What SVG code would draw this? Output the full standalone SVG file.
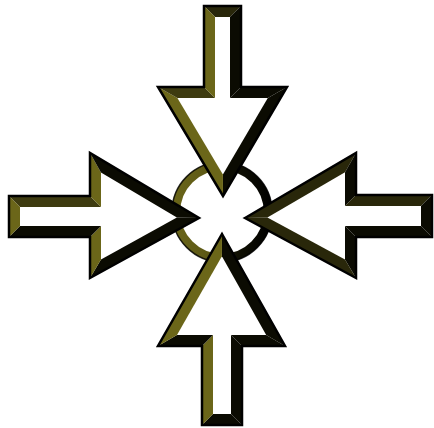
<svg xmlns="http://www.w3.org/2000/svg" width="434" height="428" viewBox="0 0 434 428">
<style>
.ol{fill:#6b6619}
.dk{fill:#3e3b10}
.dd{fill:#29270a}
.bk{fill:#0b0b02}
.edge{fill:none;stroke:#000;stroke-width:2.5;stroke-linejoin:miter}
</style>
<defs>
<linearGradient id="gc" gradientUnits="userSpaceOnUse" x1="172" y1="0" x2="272" y2="0">
<stop offset="0" stop-color="#6b6619"/>
<stop offset="0.42" stop-color="#5a5615"/>
<stop offset="0.58" stop-color="#141404"/>
<stop offset="1" stop-color="#000"/>
</linearGradient>
</defs>
<rect width="434" height="428" fill="#fff"/>
<g id="ring">
<circle cx="222" cy="212" r="46" fill="none" stroke="url(#gc)" stroke-width="8.5"/>
<circle cx="222" cy="212" r="50" fill="none" stroke="#000" stroke-width="1.5" opacity="0.8"/>
</g>
<g id="arrow-top">
<polygon points="204,6 241,6 241,87 287,87 223,196 158,87 204,87" fill="#fff"/>
<polygon class="dd" points="204,6 241,6 230,17 215,17"/>
<polygon class="bk" points="241,6 241,87 230,98 230,17"/>
<polygon class="bk" points="241,87 287,87 267.8,98 230,98"/>
<polygon class="bk" points="287,87 223,196 222.9,174.4 267.8,98"/>
<polygon class="ol" points="223,196 158,87 177.4,98 222.9,174.4"/>
<polygon class="dk" points="158,87 204,87 215,98 177.4,98"/>
<polygon class="ol" points="204,87 204,6 215,17 215,98"/>
<polygon class="edge" points="204,6 241,6 241,87 287,87 223,196 158,87 204,87"/>
</g>
<g id="arrow-bottom">
<polygon points="222,234 285,346 242,346 242,425 202,425 202,346 158,346" fill="#fff"/>
<polygon class="bk" points="222,234 285,346 266.2,335 221.9,256.3"/>
<polygon class="bk" points="285,346 242,346 231,335 266.2,335"/>
<polygon class="bk" points="242,346 242,425 231,414 231,335"/>
<polygon class="bk" points="242,425 202,425 213,414 231,414"/>
<polygon class="ol" points="202,425 202,346 213,335 213,414"/>
<polygon class="bk" points="202,346 158,346 177,335 213,335"/>
<polygon class="ol" points="158,346 222,234 221.9,256.3 177,335"/>
<polygon class="edge" points="222,234 285,346 242,346 242,425 202,425 202,346 158,346"/>
</g>
<g id="arrow-left">
<polygon points="9,196 90,196 90,153 199,218 90,278 90,237 9,237" fill="#fff"/>
<polygon class="dk" points="9,196 90,196 101,207 20,207"/>
<polygon class="ol" points="90,196 90,153 101,172.4 101,207"/>
<polygon class="bk" points="90,153 199,218 176.9,217.6 101,172.4"/>
<polygon class="bk" points="199,218 90,278 101,259.4 176.9,217.6"/>
<polygon class="ol" points="90,278 90,237 101,226 101,259.4"/>
<polygon class="bk" points="90,237 9,237 20,226 101,226"/>
<polygon class="ol" points="9,237 9,196 20,207 20,226"/>
<polygon class="edge" points="9,196 90,196 90,153 199,218 90,278 90,237 9,237"/>
</g>
<g id="arrow-right">
<polygon points="245,218 356,153 356,195 432,195 432,237 356,237 356,278" fill="#fff"/>
<polygon class="dd" points="245,218 356,153 345,172.2 267.4,217.6"/>
<polygon class="bk" points="356,153 356,195 345,206 345,172.2"/>
<polygon class="dd" points="356,195 432,195 421,206 345,206"/>
<polygon class="bk" points="432,195 432,237 421,226 421,206"/>
<polygon class="bk" points="432,237 356,237 345,226 421,226"/>
<polygon class="bk" points="356,237 356,278 345,259.5 345,226"/>
<polygon class="dd" points="356,278 245,218 267.4,217.6 345,259.5"/>
<polygon class="edge" points="245,218 356,153 356,195 432,195 432,237 356,237 356,278"/>
</g>
</svg>
